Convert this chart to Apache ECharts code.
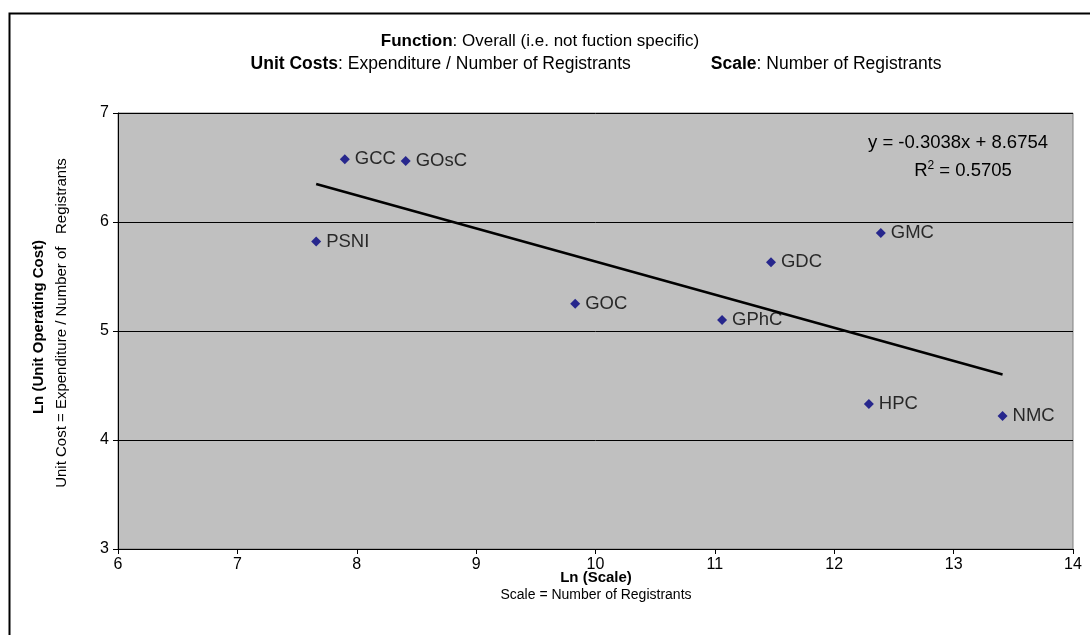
<!DOCTYPE html>
<html><head><meta charset="utf-8">
<script src="https://cdn.jsdelivr.net/npm/echarts@6/dist/echarts.min.js"></script>
<style>html,body{margin:0;padding:0;background:#fff}#c{width:1090px;height:635px}</style>
</head><body><div id="c"></div>
<script>
var names = ['PSNI','GCC','GOsC','GOC','GPhC','GDC','GMC','HPC','NMC'];
var lnScale = [7.66, 7.90, 8.41, 9.83, 11.06, 11.47, 12.39, 12.29, 13.41];
var lnCost = [5.82, 6.575, 6.56, 5.25, 5.10, 5.63, 5.90, 4.33, 4.22];
var trendSlope = -0.3038;
var trendIntercept = 8.6754;
var rSquared = 0.5705;
var xTicks = [6, 14, 1];
var yTicks = [3, 7, 1];

var F = '"Liberation Sans", Arial, sans-serif';
var pts = names.map(function(n, i){ return {name: n, value: [lnScale[i], lnCost[i]]}; });
var xmin = Math.min.apply(null, lnScale), xmax = Math.max.apply(null, lnScale);
var trend = [[xmin, trendSlope*xmin + trendIntercept], [xmax, trendSlope*xmax + trendIntercept]];

var rich1 = {
  b: {fontFamily: F, fontSize: 17, fontWeight: 'bold', color: '#000'},
  n: {fontFamily: F, fontSize: 17, fontWeight: 'normal', color: '#000'}
};
var rich2 = {
  b: {fontFamily: F, fontSize: 17.5, fontWeight: 'bold', color: '#000'},
  n: {fontFamily: F, fontSize: 17.5, fontWeight: 'normal', color: '#000'},
  g: {width: 80}
};
var chart = echarts.init(document.getElementById('c'));
chart.setOption({
  animation: false,
  backgroundColor: '#fff',
  grid: {left: 118, top: 113, width: 955, height: 436, show: true, backgroundColor: '#C0C0C0', borderColor: '#808080', borderWidth: 1},
  title: [
    {left: 540, top: 33, textAlign: 'center', padding: 0,
     text: '{b|Function}{n|: Overall (i.e. not fuction specific)}', textStyle: {fontWeight: 'normal', rich: rich1}},
    {left: 596, top: 55, textAlign: 'center', padding: 0,
     text: '{b|Unit Costs}{n|: Expenditure / Number of Registrants}{g|}{b|Scale}{n|: Number of Registrants}', textStyle: {fontWeight: 'normal', rich: rich2}}
  ],
  xAxis: {
    type: 'value', min: xTicks[0], max: xTicks[1], interval: xTicks[2],
    axisLine: {onZero: false, lineStyle: {color: '#000', width: 1}},
    axisTick: {show: true, length: 5, lineStyle: {color: '#000'}},
    axisLabel: {fontFamily: F, fontSize: 16, color: '#000', margin: 8},
    splitLine: {show: false}
  },
  yAxis: {
    type: 'value', min: yTicks[0], max: yTicks[1], interval: yTicks[2],
    axisLine: {show: true, onZero: false, lineStyle: {color: '#000', width: 1}},
    axisTick: {show: true, length: 5, lineStyle: {color: '#000'}},
    axisLabel: {fontFamily: F, fontSize: 16, color: '#000', margin: 9},
    splitLine: {show: true, lineStyle: {color: '#000', width: 1}}
  },
  graphic: [
    {type: 'rect', shape: {x: 9.5, y: 13.5, width: 1200, height: 800}, style: {fill: 'none', stroke: '#000', lineWidth: 2}, z: -10},
    {type: 'text', x: 39, y: 327, rotation: Math.PI/2, style: {text: 'Ln (Unit Operating Cost)', font: 'bold 15px ' + F, fill: '#000', align: 'center', verticalAlign: 'middle'}},
    {type: 'text', x: 62, y: 323, rotation: Math.PI/2, style: {text: 'Unit Cost = Expenditure / Number of   Registrants', font: '15px ' + F, fill: '#000', align: 'center', verticalAlign: 'middle'}},
    {type: 'text', x: 596, y: 578, style: {text: 'Ln (Scale)', font: 'bold 15px ' + F, fill: '#000', align: 'center', verticalAlign: 'middle'}},
    {type: 'text', x: 596, y: 595, style: {text: 'Scale = Number of Registrants', font: '14px ' + F, fill: '#000', align: 'center', verticalAlign: 'middle'}},
    {type: 'text', x: 958, y: 143, z: 20, style: {text: 'y = ' + trendSlope.toFixed(4) + 'x + ' + trendIntercept.toFixed(4), font: '18.5px ' + F, fill: '#000', align: 'center', verticalAlign: 'middle'}},
    {type: 'text', x: 963, y: 170, z: 20, style: {text: '{n|R}{s|2}{n| = ' + rSquared.toFixed(4) + '}', align: 'center', verticalAlign: 'middle',
      rich: {n: {font: '18.5px ' + F, fill: '#000', verticalAlign: 'bottom'}, s: {font: '12px ' + F, fill: '#000', verticalAlign: 'top', padding: [0,0,8,0]}}}}
  ],
  series: [
    {type: 'line', data: trend, symbol: 'none', lineStyle: {color: '#000', width: 2.5}, z: 3, silent: true},
    {type: 'scatter', data: pts, symbol: 'diamond', symbolSize: 10, itemStyle: {color: '#000080'}, z: 5,
      label: {show: true, position: 'right', distance: 5, formatter: '{b}', fontFamily: F, fontSize: 18.5, color: '#000'}}
  ]
});
</script></body></html>
